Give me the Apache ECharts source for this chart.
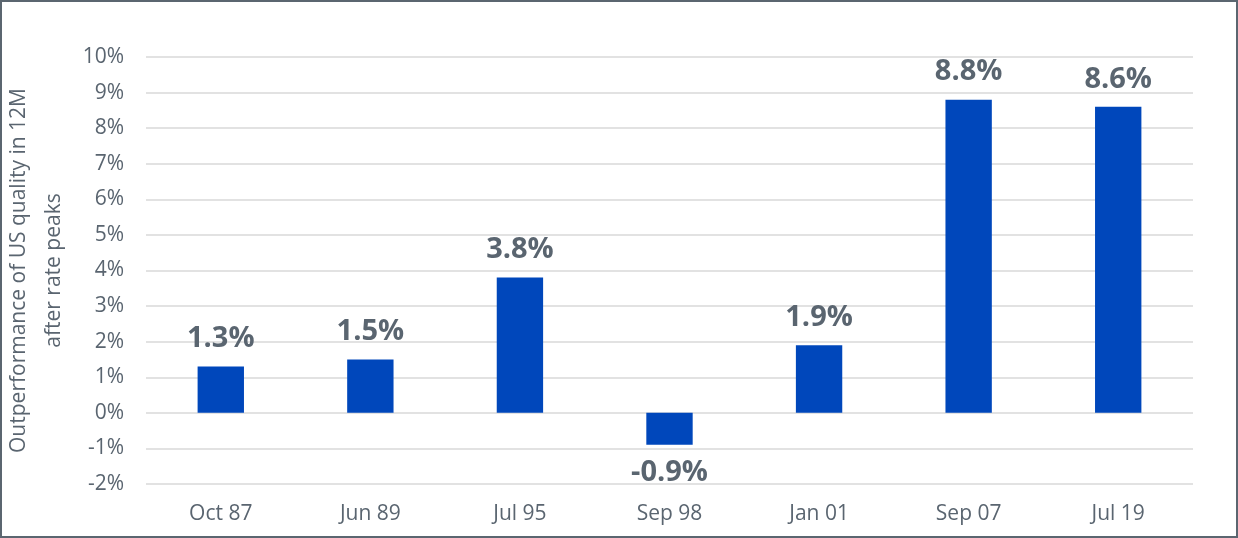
<!DOCTYPE html>
<html><head><meta charset="utf-8">
<script src="https://cdn.jsdelivr.net/npm/echarts@6/dist/echarts.min.js"></script>
<style>html,body{margin:0;padding:0;background:#fff}#c{width:1238px;height:538px;box-sizing:border-box;border:2px solid #5b6670}</style>
</head><body><div id="c"></div>
<script>
const categories = ["Oct 87","Jun 89","Jul 95","Sep 98","Jan 01","Sep 07","Jul 19"];
const values = [1.3, 1.5, 3.8, -0.9, 1.9, 8.8, 8.6];
const yAxisName = "Outperformance of US quality in 12M\nafter rate peaks";
const chart = echarts.init(document.getElementById('c'), null, {renderer:'canvas'});
const txt = '#5a6570';
const font = '"Open Sans","Noto Sans",sans-serif';
chart.setOption({
  animation:false,
  grid:{left:144,right:43,top:55,bottom:52,outerBoundsMode:'none',containLabel:false},
  xAxis:{type:'category',data:categories,
    axisLine:{show:false,onZero:false},axisTick:{show:false},
    axisLabel:{color:txt,fontSize:21,fontFamily:font,margin:20}},
  yAxis:{type:'value',min:-2,max:10,interval:1,
    name:yAxisName,nameLocation:'middle',nameGap:69,
    nameTextStyle:{color:txt,fontSize:21,fontFamily:font,lineHeight:35},
    axisLabel:{color:txt,fontSize:21,fontFamily:font,margin:22,formatter:v=>v+'%'},
    splitLine:{lineStyle:{color:'#d9d9d9',width:1.5}}},
  series:[{type:'bar',barWidth:'31%',
    data:values.map(v=>({value:v,label:{position:v<0?'bottom':'top'}})),
    itemStyle:{color:'#0047BB'},
    label:{show:true,distance:13,color:txt,fontSize:29,fontWeight:'bold',fontFamily:font,formatter:p=>p.value.toFixed(1)+'%'}}]
});
</script></body></html>
